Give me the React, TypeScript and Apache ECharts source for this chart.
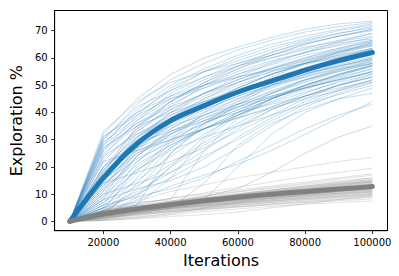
import React, { useEffect, useRef } from "react";
import * as echarts from "echarts";

const iterations = [10000, 20000, 30000, 40000, 50000, 60000, 70000, 80000, 90000, 100000];
const xTicks = [20000, 40000, 60000, 80000, 100000];
const yTicks = [0, 10, 20, 30, 40, 50, 60, 70];

const blueRuns: number[][] = [
  [0, 32, 45, 54, 60, 64, 67.5, 70.5, 72.5, 73.5],
  [0, 30, 43, 52, 58, 63, 66.5, 69.5, 71.5, 73],
  [0, 28, 41, 50, 56, 61, 65, 68, 70.5, 72.5],
  [0, 31, 40, 48, 55, 60, 64, 67, 70, 72],
  [0, 26, 39, 49, 55, 59, 63, 66.5, 69, 71],
  [0, 29, 38, 46, 52, 57, 61, 65, 68, 70.5],
  [0, 24, 37, 47, 53, 58, 62, 65.5, 68, 70],
  [0, 27, 36, 44, 51, 56, 60, 63.5, 66.5, 69],
  [0, 33, 44, 51, 55, 58, 61, 64, 66, 68],
  [0, 25, 35, 43, 49, 54, 58.5, 62, 65, 67.5],
  [0, 30, 42, 48, 53, 57, 60, 63, 65.5, 67],
  [0, 22, 34, 44, 50, 55, 59, 62, 64.5, 66.5],
  [0, 28, 37, 45, 50, 54, 57.5, 61, 63.5, 66],
  [0, 23, 33, 41, 47, 52, 56, 59.5, 62.5, 65],
  [0, 31, 39, 45, 49, 53, 56, 59, 62, 64.5],
  [0, 26, 36, 42, 47, 51, 55, 58, 61, 63.5],
  [0, 20, 31, 39, 45, 50, 54, 57.5, 60.5, 63],
  [0, 29, 40, 46, 50, 53, 55.5, 58, 60, 62],
  [0, 24, 32, 38, 43, 48, 52, 56, 59, 61.5],
  [0, 27, 35, 40, 44, 48, 51, 54, 57, 60],
  [0, 18, 33, 42, 50, 56, 61, 65, 68, 70.5],
  [0, 15, 30, 40, 47, 53, 58, 62, 66, 69],
  [0, 20, 34, 41, 47, 52, 56.5, 60, 63, 66],
  [0, 12, 28, 38, 45, 51, 56, 60, 63.5, 66.5],
  [0, 17, 31, 38, 44, 49, 54, 58, 61.5, 64.5],
  [0, 14, 29, 37, 43, 48, 52.5, 56.5, 60, 63],
  [0, 19, 30, 36, 41, 46, 50, 54, 58, 61.5],
  [0, 11, 27, 35, 42, 47, 51, 55, 59, 62],
  [0, 16, 28, 34, 40, 45, 49.5, 53.5, 57, 60],
  [0, 13, 25, 33, 39, 44, 49, 53, 56.5, 59.5],
  [0, 18, 27, 32, 37, 42, 47, 51.5, 55.5, 59],
  [0, 10, 24, 32, 38, 43, 47.5, 52, 55.5, 58.5],
  [0, 15, 26, 31, 36, 41, 45.5, 50, 54, 57.5],
  [0, 12, 22, 30, 36, 41, 46, 50, 53.5, 57],
  [0, 17, 29, 35, 39, 43, 46, 49, 52, 55],
  [0, 14, 23, 29, 34, 39, 44, 48.5, 52.5, 56],
  [0, 9, 21, 28, 34, 40, 45, 49.5, 53.5, 57],
  [0, 19, 32, 39, 44, 48, 51.5, 54.5, 57, 59.5],
  [0, 13, 27, 36, 43, 49, 54, 58, 61, 63.5],
  [0, 16, 31, 40, 46, 51, 55, 59, 62.5, 65.5],
  [0, 11, 24, 34, 41, 46, 50, 53, 56, 58],
  [0, 20, 29, 33, 37, 40, 43, 46, 49, 51.5],
  [0, 15, 25, 30, 34, 38, 41.5, 45, 48, 51],
  [0, 8, 19, 27, 34, 40, 45, 49, 52, 54.5],
  [0, 18, 35, 44, 51, 57, 62, 66, 69, 71.5],
  [0, 5, 18, 30, 40, 47, 53, 58, 62, 65.5],
  [0, 3, 12, 25, 35, 43, 50, 55, 59, 62.5],
  [0, 6, 22, 32, 39, 45, 50, 54, 57.5, 60.5],
  [0, 2, 9, 20, 31, 40, 47, 52, 56, 59],
  [0, 7, 15, 24, 32, 39, 45, 50, 54, 57.5],
  [0, 4, 20, 28, 34, 39, 43.5, 47.5, 51, 54],
  [0, 6, 13, 21, 29, 36, 42, 47, 51.5, 55],
  [0, 3, 16, 29, 37, 43, 48, 52, 55, 58],
  [0, 8, 24, 33, 38, 42, 45.5, 49, 52, 55],
  [0, 5, 11, 18, 26, 34, 41, 46, 50, 53],
  [0, 2, 14, 27, 36, 44, 51, 56, 60, 63.5],
  [0, 7, 19, 26, 31, 35, 39, 43, 46.5, 50],
  [0, 4, 10, 16, 23, 31, 38, 44, 48.5, 52],
  [0, 9, 26, 36, 43, 49, 54, 58.5, 62, 65],
  [0, 3, 5, 7, 9, 12, 18, 25, 31, 35],
  [0, 2, 4, 6, 8, 20, 32, 40, 45, 49],
  [0, 5, 7, 8, 26, 38, 45, 50, 54, 57],
  [0, 4, 6, 16, 30, 39, 45, 49, 53, 56],
  [0, 1, 3, 5, 14, 28, 36, 41, 45, 47],
  [0, 6, 9, 12, 16, 22, 28, 34, 39, 43],
  [0, 3, 6, 25, 36, 42, 47, 51, 55, 58],
  [0, 2, 8, 13, 17, 21, 26, 32, 38, 44],
  [0, 10, 14, 18, 24, 30, 37, 43, 48, 52],
  [0, 14, 18, 22, 27, 33, 39, 45, 50, 54],
  [0, 5, 10, 20, 28, 35, 41, 46, 50, 53],
  [0, 22, 26, 30, 34, 38, 42, 46, 50, 53],
  [0, 8, 12, 15, 20, 27, 35, 42, 47, 51],
];

const grayRuns: number[][] = [
  [0, 4, 7.5, 11, 13.4, 16, 18, 20, 22, 23.5],
  [0, 3.5, 6, 8.5, 10.5, 12.5, 14.5, 16.5, 18, 19.5],
  [0, 4.5, 6.5, 8.5, 10, 11.5, 13, 14.5, 16, 17.5],
  [0, 3, 5.5, 7.5, 9.5, 11, 12.5, 14, 15.5, 17],
  [0, 2.5, 5, 7, 8.5, 10, 11.5, 13, 14.5, 16],
  [0, 3.8, 5.5, 7, 8.5, 10, 11.5, 12.8, 14, 15.5],
  [0, 2, 4, 6, 8, 9.5, 11, 12.5, 13.8, 15],
  [0, 3.2, 5, 6.5, 8, 9.5, 11, 12, 13.5, 14.8],
  [0, 2.8, 4.5, 6, 7.5, 9, 10.5, 11.8, 13, 14.5],
  [0, 1.5, 3.5, 5.5, 7.5, 9, 10.5, 11.5, 12.8, 14],
  [0, 3, 4.8, 6.5, 8, 9, 10.2, 11.5, 12.8, 14],
  [0, 2.2, 4, 5.8, 7.2, 8.5, 9.8, 11, 12.2, 13.5],
  [0, 4, 5.5, 6.8, 8, 9, 10, 11.2, 12.2, 13.3],
  [0, 2.5, 4.2, 5.5, 7, 8.3, 9.5, 10.8, 12, 13],
  [0, 1.8, 3.5, 5, 6.5, 8, 9.3, 10.5, 11.8, 13],
  [0, 3, 4.5, 5.8, 7, 8.2, 9.4, 10.5, 11.6, 12.8],
  [0, 2.6, 4.3, 5.8, 7.2, 8.5, 9.5, 10.5, 11.5, 12.5],
  [0, 2, 3.8, 5.5, 6.8, 8, 9.2, 10.3, 11.4, 12.5],
  [0, 3.4, 5, 6.2, 7.4, 8.5, 9.5, 10.4, 11.4, 12.3],
  [0, 1.2, 3, 4.8, 6.3, 7.6, 8.8, 10, 11, 12.2],
  [0, 2.4, 4, 5.3, 6.6, 7.8, 9, 10, 11, 12],
  [0, 3, 4.6, 5.8, 7, 8, 9, 9.9, 10.9, 11.8],
  [0, 1.6, 3.2, 4.7, 6, 7.3, 8.5, 9.6, 10.6, 11.6],
  [0, 2.8, 4.2, 5.4, 6.5, 7.6, 8.6, 9.6, 10.5, 11.5],
  [0, 2, 3.6, 5, 6.2, 7.3, 8.3, 9.3, 10.3, 11.3],
  [0, 3.6, 5, 6, 7, 7.8, 8.6, 9.5, 10.3, 11],
  [0, 1, 2.6, 4.2, 5.6, 6.9, 8, 9, 10, 11],
  [0, 2.3, 3.8, 5, 6, 7, 8, 9, 9.9, 10.8],
  [0, 1.8, 3.3, 4.6, 5.8, 6.8, 7.8, 8.8, 9.8, 10.6],
  [0, 2.6, 3.8, 4.8, 5.8, 6.7, 7.6, 8.5, 9.4, 10.3],
  [0, 1.4, 2.8, 4, 5.2, 6.3, 7.4, 8.4, 9.3, 10.2],
  [0, 2.2, 3.4, 4.5, 5.5, 6.5, 7.4, 8.3, 9.1, 10],
  [0, 0.8, 2.2, 3.6, 4.8, 6, 7, 8, 8.9, 9.8],
  [0, 1.9, 3, 4, 5, 6, 6.9, 7.8, 8.7, 9.5],
  [0, 1.2, 2.4, 3.5, 4.6, 5.6, 6.5, 7.4, 8.3, 9.2],
  [0, 0.5, 1.8, 3, 4.2, 5.3, 6.3, 7.2, 8, 8.8],
  [0, 1.5, 2.6, 3.6, 4.5, 5.3, 6.1, 6.9, 7.6, 8.3],
  [0, 0.3, 1.2, 2.4, 3.6, 4.6, 5.5, 6.3, 7, 7.5],
  [0, 3.2, 5.2, 7, 8.7, 10.2, 11.6, 13, 14.2, 15.4],
  [0, 2.4, 4.6, 6.6, 8.3, 9.8, 11.2, 12.5, 13.7, 14.8],
  [0, 1.6, 3.8, 5.8, 7.6, 9.2, 10.6, 11.9, 13.2, 14.4],
  [0, 4.2, 6, 7.4, 8.6, 9.8, 11, 12.2, 13.4, 14.6],
  [0, 2.8, 5.3, 7.4, 9.2, 10.8, 12.2, 13.6, 14.8, 16],
  [0, 0.6, 1.5, 2.8, 5, 7, 8.5, 9.8, 11, 12],
  [0, 0.4, 1, 1.8, 2.5, 3.5, 5, 6.5, 8, 9.5],
];

const blueMean = [0, 16, 28.5, 37, 42.5, 47.5, 51.5, 55.5, 59, 62];
const grayMean = [0, 2.8, 4.6, 6.1, 7.6, 8.9, 10, 11, 11.9, 12.8];

const BLUE = "#1f77b4";
const GRAY = "#808080";
const FONT = "DejaVu Sans";

const toPoints = (vals: number[]) => iterations.map((x, i) => [x, vals[i]]);

export default function App() {
  const ref = useRef<HTMLDivElement>(null);
  useEffect(() => {
    if (!ref.current) return;
    const chart = echarts.init(ref.current, null, { renderer: "svg" });
    const thin = (vals: number[], color: string, opacity: number) => ({
      type: "line",
      data: toPoints(vals),
      showSymbol: false,
      symbol: "none",
      silent: true,
      lineStyle: { color, width: 1, opacity },
    });
    const mean = (vals: number[], color: string) => ({
      type: "line",
      data: toPoints(vals),
      symbol: "none",
      showSymbol: false,
      smooth: 0.3,
      silent: true,
      lineStyle: { color, width: 5, cap: "round", join: "round" },
    });
    const series: any[] = [
      ...blueRuns.map((r) => thin(r, BLUE, 0.26)),
      mean(blueMean, BLUE),
      ...grayRuns.map((r) => thin(r, GRAY, 0.24)),
      mean(grayMean, GRAY),
    ];
    const plain = (v: number) => String(v);
    chart.setOption({
      animation: false,
      grid: {
        left: 47,
        right: 11.5,
        top: 10.5,
        bottom: 45.3,
        show: true,
        borderColor: "#000",
        borderWidth: 1,
      },
      xAxis: {
        type: "value",
        min: 5500,
        max: 104500,
        name: "Iterations",
        nameLocation: "middle",
        nameGap: 19,
        nameTextStyle: { fontSize: 16, fontFamily: FONT, color: "#000" },
        splitLine: { show: false },
        axisLine: { show: true, onZero: false, lineStyle: { color: "#000", width: 1 } },
        axisTick: { show: true, length: 3.5, customValues: xTicks, lineStyle: { color: "#000", width: 0.8 } },
        axisLabel: { customValues: xTicks, formatter: plain, color: "#000", fontSize: 10, fontFamily: FONT, margin: 7 },
      },
      yAxis: {
        type: "value",
        min: -3.4,
        max: 77.4,
        name: "Exploration %",
        nameLocation: "middle",
        nameGap: 22,
        nameRotate: 90,
        nameTextStyle: { fontSize: 16, fontFamily: FONT, color: "#000" },
        splitLine: { show: false },
        axisLine: { show: true, onZero: false, lineStyle: { color: "#000", width: 1 } },
        axisTick: { show: true, length: 3.5, customValues: yTicks, lineStyle: { color: "#000", width: 0.8 } },
        axisLabel: { customValues: yTicks, formatter: plain, color: "#000", fontSize: 10, fontFamily: FONT, margin: 7 },
      },
      series,
    });
    return () => chart.dispose();
  }, []);
  return (
    <div
      ref={ref}
      style={{ position: "fixed", left: 0, top: 0, width: 399, height: 276, background: "#fff" }}
    />
  );
}
